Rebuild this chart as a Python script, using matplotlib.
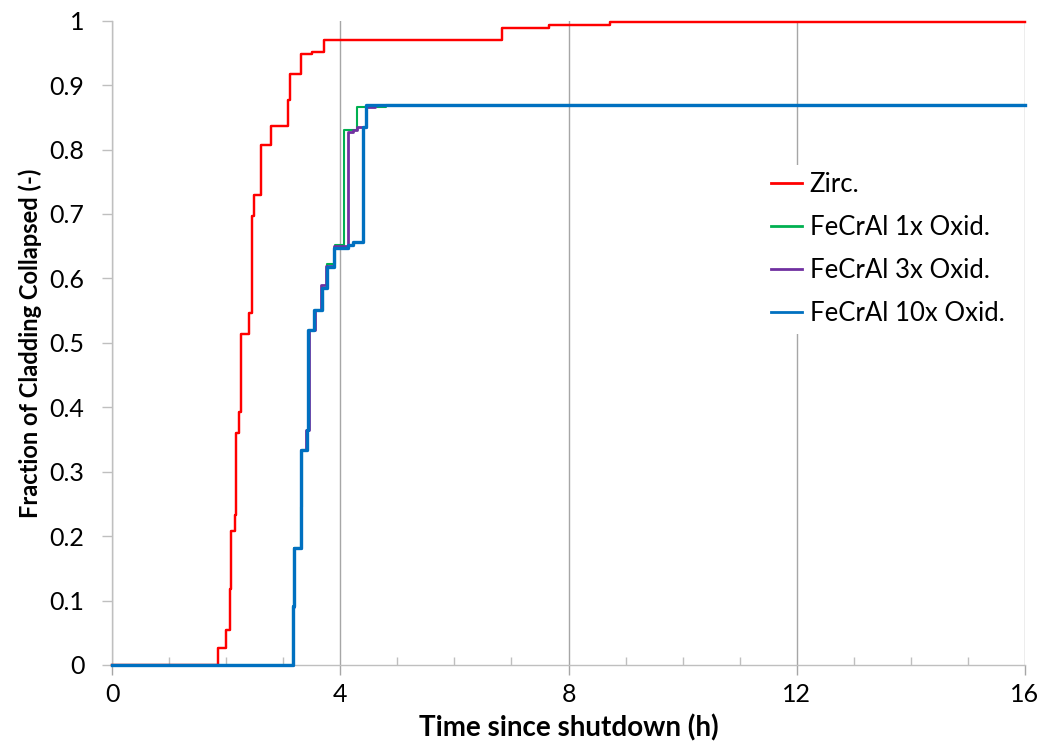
import matplotlib
matplotlib.use("Agg")
import matplotlib.pyplot as plt
from matplotlib.ticker import MultipleLocator

plt.rcParams['font.family'] = ['Lato', 'DejaVu Sans']

# time since shutdown (h) and fraction of cladding collapsed, step data
zirc_t = [0, 1.864, 2.0, 2.06, 2.085, 2.155, 2.17, 2.225, 2.255, 2.406, 2.448, 2.494,
          2.61, 2.78, 3.09, 3.125, 3.32, 3.51, 3.715, 6.835, 7.66, 8.72, 16]
zirc_f = [0, 0.027, 0.054, 0.118, 0.208, 0.233, 0.36, 0.393, 0.514, 0.546, 0.697, 0.73,
          0.807, 0.837, 0.877, 0.918, 0.948, 0.951, 0.970, 0.988, 0.993, 0.998, 0.998]

ox1_t = [0, 3.178, 3.195, 3.32, 3.335, 3.41, 3.45, 3.56, 3.69, 3.77, 3.9, 4.07, 4.30, 4.81, 16]
ox1_f = [0, 0.09, 0.182, 0.245, 0.334, 0.365, 0.52, 0.551, 0.585, 0.623, 0.652, 0.831, 0.866, 0.869, 0.869]

ox3_t = [0, 3.178, 3.195, 3.31, 3.32, 3.40, 3.445, 3.55, 3.67, 3.755, 3.885, 4.13, 4.22, 4.30, 4.45, 4.6, 16]
ox3_f = [0, 0.09, 0.182, 0.27, 0.334, 0.365, 0.52, 0.551, 0.59, 0.62, 0.65, 0.828, 0.83, 0.835, 0.866, 0.869, 0.869]

ox10_t = [0, 3.178, 3.195, 3.32, 3.41, 3.44, 3.545, 3.675, 3.76, 3.89, 4.14, 4.23, 4.39, 4.45, 16]
ox10_f = [0, 0.092, 0.182, 0.334, 0.365, 0.52, 0.551, 0.585, 0.618, 0.647, 0.652, 0.657, 0.835, 0.869, 0.869]

fig = plt.figure(figsize=(10.47, 7.53), dpi=100)
ax = fig.add_axes([0.107, 0.1169, 0.872, 0.8556])

ax.step(zirc_t, zirc_f, where='post', color='#FF0000', lw=1.75, label='Zirc.', clip_on=False, zorder=3)
ax.step(ox1_t, ox1_f, where='post', color='#00B050', lw=1.5, label='FeCrAl 1x Oxid.', clip_on=False, zorder=3)
ax.step(ox3_t, ox3_f, where='post', color='#7030A0', lw=2.0, label='FeCrAl 3x Oxid.', clip_on=False, zorder=3)
ax.step(ox10_t, ox10_f, where='post', color='#0070C0', lw=2.4, label='FeCrAl 10x Oxid.', clip_on=False, zorder=3)

ax.set_xlim(0, 16)
ax.set_ylim(0, 1)
ax.xaxis.set_major_locator(MultipleLocator(4))
ax.xaxis.set_minor_locator(MultipleLocator(1))
ax.set_yticks([i / 10 for i in range(11)])
ax.set_yticklabels(['0'] + ['0.%d' % i for i in range(1, 10)] + ['1'])

ax.grid(axis='x', which='major', color='#A6A6A6', lw=1.0)
ax.set_axisbelow(True)
for s in ['top', 'right']:
    ax.spines[s].set_visible(False)
for s in ['left', 'bottom']:
    ax.spines[s].set_color('#BFBFBF')
    ax.spines[s].set_linewidth(1.0)

ax.tick_params(axis='y', which='major', direction='out', length=7, width=1, color='#BFBFBF',
               labelsize=18, pad=13)
ax.tick_params(axis='x', which='major', direction='out', length=7, width=1, color='#A6A6A6',
               labelsize=18, pad=6)
ax.tick_params(axis='x', which='minor', direction='in', length=6, width=1, color='#BFBFBF')

ax.set_xlabel('Time since shutdown (h)', fontsize=20, fontweight='bold', labelpad=6)
ax.set_ylabel('Fraction of Cladding Collapsed (-)', fontsize=17, fontweight='bold', labelpad=5)

leg = ax.legend(loc='center left', bbox_to_anchor=(0.729, 0.669), bbox_transform=fig.transFigure,
                fontsize=18.5, frameon=True, facecolor='white', edgecolor='none', framealpha=1,
                handlelength=1.2, handletextpad=0.3, labelspacing=0.7, borderpad=0.3,
                borderaxespad=0)
for h in leg.get_lines():
    h.set_linewidth(2.0)

fig.savefig('out.png', dpi=100)
